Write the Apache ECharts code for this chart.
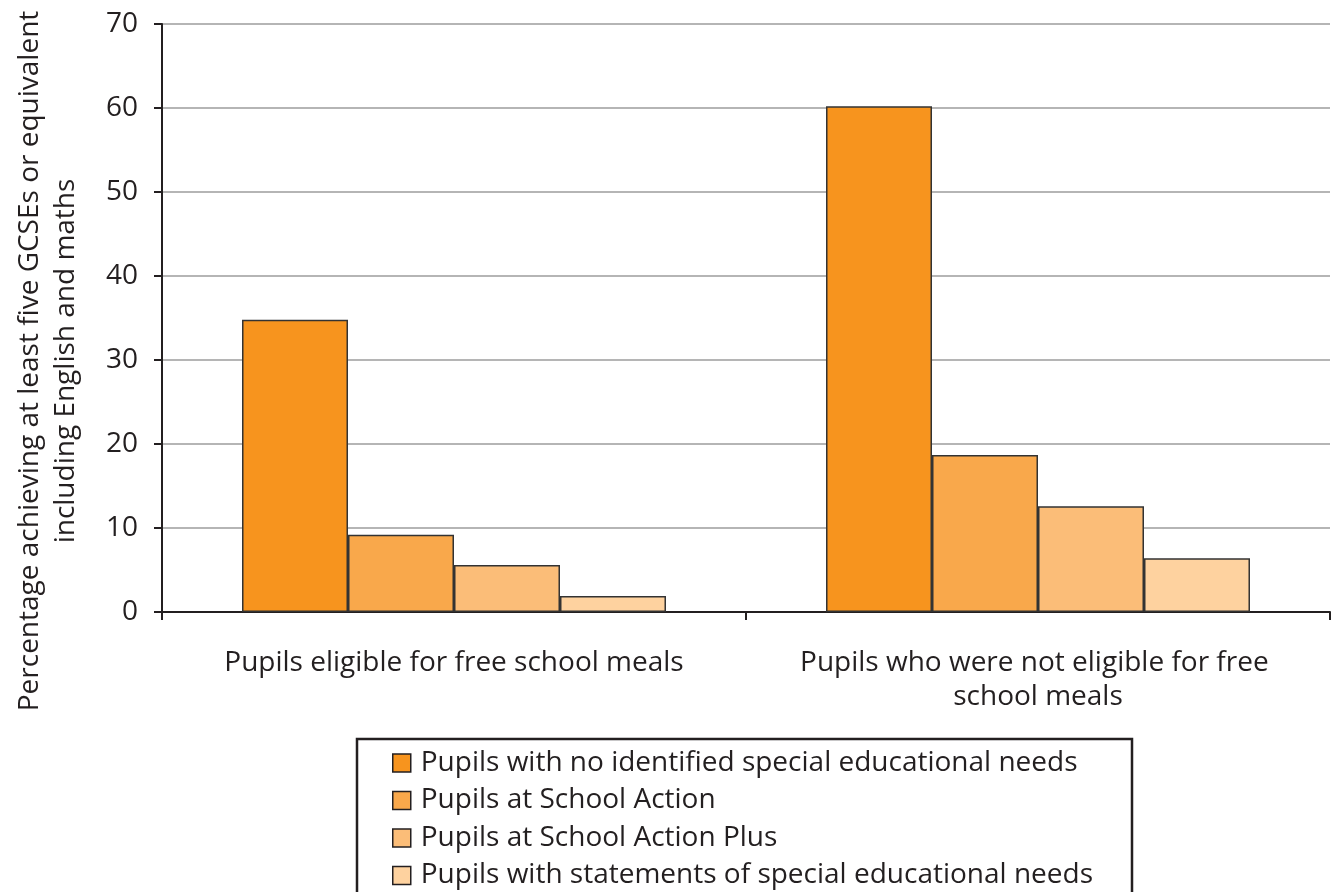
<!DOCTYPE html>
<html>
<head>
<meta charset="utf-8">
<title>GCSE attainment by SEN and FSM</title>
<script src="https://cdn.jsdelivr.net/npm/echarts@6/dist/echarts.min.js"></script>
<style>
  *{margin:0;padding:0;}
  body{background:#fff;}
  #main{width:1335px;height:892px;}
</style>
</head>
<body>
<div id="main"></div>
<script>
// categories on the x axis
var categories = ['Pupils eligible for free school meals', 'Pupils who were not eligible for free school meals'];
// series names
var seriesNames = [
  'Pupils with no identified special educational needs',
  'Pupils at School Action',
  'Pupils at School Action Plus',
  'Pupils with statements of special educational needs'
];
// values (%)
var noSen = [34.8, 60.2];
var schoolAction = [9.2, 18.7];
var actionPlus = [5.6, 12.6];
var statements = [1.9, 6.4];
var colours = ['#F7941E', '#F9A84B', '#FBBD78', '#FED29F'];

var ink = '#231f20';
var font = 'Open Sans';
var fs = 28;

var values = [noSen, schoolAction, actionPlus, statements];
var series = [];
for (var i = 0; i < seriesNames.length; i++) {
  series.push({
    name: seriesNames[i],
    type: 'bar',
    data: values[i],
    barGap: '0%',
    barCategoryGap: '27.4%',
    itemStyle: {color: colours[i], borderColor: '#333', borderWidth: 1.5}
  });
}

var myChart = echarts.init(document.getElementById('main'));
var option = {
  animation: false,
  textStyle: {fontFamily: font, color: ink},
  grid: {left: 162, right: 5, top: 24, bottom: 280, containLabel: false},
  legend: {
    orient: 'vertical',
    left: 392,
    top: 749,
    padding: 0,
    itemWidth: 18,
    itemHeight: 18,
    itemGap: 9.5,
    icon: 'rect',
    textStyle: {fontFamily: font, fontSize: fs, color: ink, padding: [0, 0, 0, 5]},
    itemStyle: {borderColor: ink, borderWidth: 1.5},
    data: seriesNames
  },
  xAxis: {
    type: 'category',
    data: categories,
    axisLine: {lineStyle: {color: ink, width: 2}},
    axisTick: {show: true, length: 8, lineStyle: {color: ink, width: 2}},
    axisLabel: {
      interval: 0,
      fontFamily: font, fontSize: fs, color: ink, margin: 34, lineHeight: 34,
      width: 510, overflow: 'break'
    }
  },
  yAxis: {
    type: 'value',
    min: 0,
    max: 70,
    interval: 10,
    axisLine: {show: true, lineStyle: {color: ink, width: 2}},
    axisTick: {show: true, length: 8, lineStyle: {color: ink, width: 2}},
    axisLabel: {fontFamily: font, fontSize: fs, color: ink, margin: 24},
    splitLine: {lineStyle: {color: '#9d9d9d', width: 1.5}}
  },
  graphic: [
    {
      type: 'text',
      x: 48,
      y: 361,
      rotation: Math.PI / 2,
      style: {
        text: 'Percentage achieving at least five GCSEs or equivalent\nincluding English and maths',
        fontFamily: font,
        fontSize: fs,
        lineHeight: 36,
        fill: ink,
        align: 'center',
        verticalAlign: 'middle'
      }
    },
    {
      type: 'rect',
      shape: {x: 357, y: 739, width: 775, height: 170},
      style: {fill: 'none', stroke: ink, lineWidth: 2.5}
    }
  ],
  series: series
};
myChart.setOption(option);
</script>
</body>
</html>
